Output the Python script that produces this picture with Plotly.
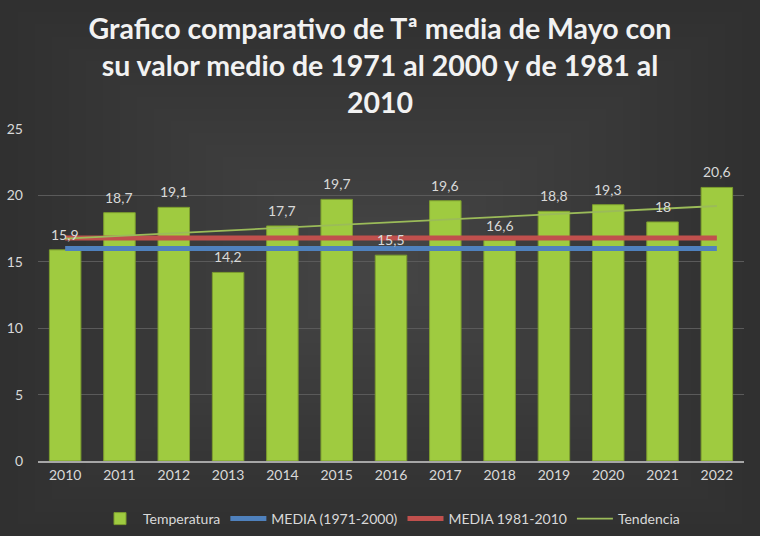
import plotly.graph_objects as go

# Temperatura media de mayo
years = ["2010", "2011", "2012", "2013", "2014", "2015", "2016",
         "2017", "2018", "2019", "2020", "2021", "2022"]
temperatura = [15.9, 18.7, 19.1, 14.2, 17.7, 19.7, 15.5, 19.6, 16.6, 18.8, 19.3, 18.0, 20.6]
media_1971_2000 = [16.0] * len(years)
media_1981_2010 = [16.8] * len(years)
# linea de tendencia (solo extremos)
tend_years = ["2010", "2022"]
tendencia = [16.75, 19.2]

y_ticks = [0, 5, 10, 15, 20, 25]

txt_color = "#d9d9d9"
fnt = "Lato"
W, H = 760, 536
ML, MR, MT, MB = 38, 16, 129, 75

labels = [f"{v:g}".replace(".", ",") for v in temperatura]

fig = go.Figure()
fig.add_trace(go.Bar(x=years, y=temperatura, name="Temperatura",
                     marker=dict(color="#9fcb40", line=dict(color="#7c9d2e", width=1)),
                     width=0.58))
fig.add_trace(go.Scatter(x=years, y=media_1971_2000, name="MEDIA (1971-2000)", mode="lines",
                         line=dict(color="#4f81bd", width=5)))
fig.add_trace(go.Scatter(x=years, y=media_1981_2010, name="MEDIA 1981-2010", mode="lines",
                         line=dict(color="#c0504d", width=5)))
fig.add_trace(go.Scatter(x=tend_years, y=tendencia, name="Tendencia", mode="lines",
                         line=dict(color="#9bbb59", width=1.8)))

# etiquetas de valor sobre las barras (x = indice de categoria)
for i, (v, lab) in enumerate(zip(temperatura, labels)):
    fig.add_annotation(x=i, y=v, text=lab, showarrow=False, yanchor="bottom",
                       yshift=5, font=dict(family=fnt, size=14, color=txt_color))

# fondo degradado (mas oscuro en las esquinas)
pw, ph = W - ML - MR, H - MT - MB
for k in range(1, 21):
    f = k * 0.0225
    cx0, cx1 = f * W, (1 - f) * W
    cy0, cy1 = f * H, (1 - f) * H
    fig.add_shape(type="rect", xref="paper", yref="paper", layer="below",
                  x0=(cx0 - ML) / pw, x1=(cx1 - ML) / pw,
                  y0=(H - MB - cy1) / ph, y1=(H - MB - cy0) / ph,
                  fillcolor="rgba(255,255,255,0.009)", line=dict(width=0))

fig.update_layout(
    width=W, height=H,
    paper_bgcolor="#303030", plot_bgcolor="rgba(0,0,0,0)",
    margin=dict(l=ML, r=MR, t=MT, b=MB, autoexpand=False),
    title=dict(text="Grafico comparativo de Tª media de Mayo con<br>su valor medio de 1971 al 2000 y de 1981 al<br>2010",
               x=0.5, xanchor="center", yref="container", y=0.927, yanchor="top",
               font=dict(family=fnt, size=28.5, color="#f2f2f2", weight="bold")),
    font=dict(family=fnt, color=txt_color, size=14),
    showlegend=True,
    legend=dict(orientation="h", x=0.5, xanchor="center", yref="container",
                y=1 - 503 / H, yanchor="top",
                font=dict(size=14, color=txt_color), bgcolor="rgba(0,0,0,0)",
                traceorder="normal", itemwidth=36),
    xaxis=dict(type="category", categoryarray=years, range=[-0.5, 12.5],
               showgrid=False, showline=True, linecolor="#a6a6a6",
               linewidth=2, ticks="", tickfont=dict(size=14, color=txt_color)),
    yaxis=dict(range=[0, 25], tickvals=y_ticks, showgrid=True, gridcolor="#5a5a5a",
               gridwidth=1, zeroline=False, showline=False, ticks="",
               tickfont=dict(size=14, color=txt_color), ticklabelstandoff=14),
)

fig.write_html("out.html", config={"displayModeBar": False},
               post_script="document.body.style.margin='0';")
